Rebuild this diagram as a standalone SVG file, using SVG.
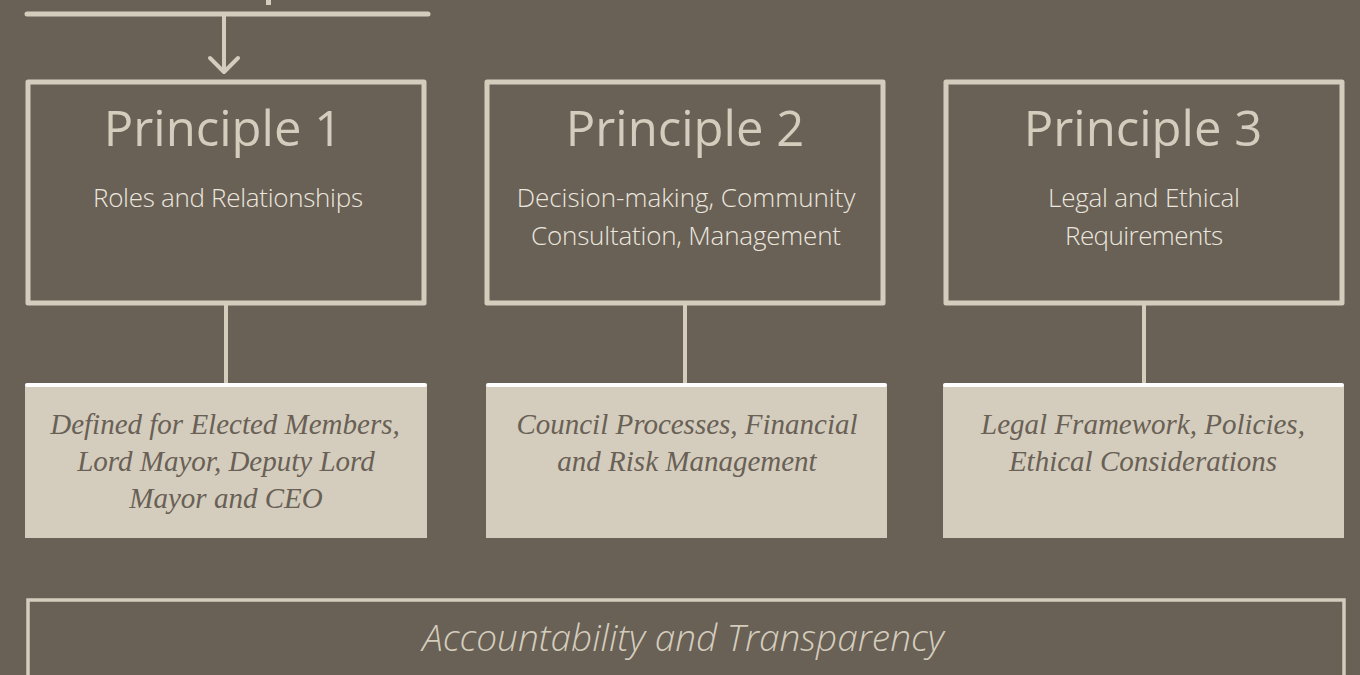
<svg xmlns="http://www.w3.org/2000/svg" width="1360" height="675" viewBox="0 0 1360 675">
<style>
.frame{fill:none;stroke:#d4cdbd;stroke-width:5;stroke-linejoin:round}
.card{fill:#d4cdbd}
.cardtop{stroke:#ffffff;stroke-width:4;stroke-linecap:round}
.con{stroke:#d4cdbd;stroke-width:4;fill:none}
.h{font-family:"Open Sans","Liberation Sans",sans-serif;font-weight:500;font-size:49px;fill:#d4cdbd;text-anchor:middle}
.s{font-family:"Open Sans","Liberation Sans",sans-serif;font-weight:300;font-size:26px;fill:#ebe7de;text-anchor:middle}
.d{font-family:"Liberation Serif","DejaVu Serif",serif;font-style:italic;font-size:29px;fill:#696056;text-anchor:middle}
.f{font-family:"Open Sans","Liberation Sans",sans-serif;font-style:italic;font-weight:300;font-size:37px;fill:#d4cdbd;text-anchor:middle}
</style>
<rect width="1360" height="675" fill="#696056"/>
<rect x="266" y="0" width="5" height="5" fill="#d4cdbd"/>
<g id="connectors">
<line x1="27" y1="14" x2="428" y2="14" class="con" style="stroke-linecap:round;stroke-width:5"/>
<line x1="224" y1="14" x2="224" y2="72" class="con"/>
<polyline points="210,58 224,72 238,58" class="con" style="stroke-linecap:round;stroke-linejoin:round"/>
<line x1="226" y1="305" x2="226" y2="384" class="con"/>
<line x1="685" y1="305" x2="685" y2="384" class="con"/>
<line x1="1144" y1="305" x2="1144" y2="384" class="con"/>
</g>
<g id="principle1">
<rect x="28" y="82" width="396" height="221" class="frame"/>
<text x="223" y="146" class="h">Principle 1</text>
<text x="228" y="207" class="s" textLength="270">Roles and Relationships</text>
</g>
<g id="principle2">
<rect x="487" y="82" width="396" height="221" class="frame"/>
<text x="685" y="146" class="h">Principle 2</text>
<text x="686" y="207" class="s">Decision-making, Community</text>
<text x="686" y="245" class="s" textLength="310">Consultation, Management</text>
</g>
<g id="principle3">
<rect x="946" y="82" width="396" height="221" class="frame"/>
<text x="1143" y="146" class="h">Principle 3</text>
<text x="1144" y="207" class="s" textLength="192">Legal and Ethical</text>
<text x="1144" y="245" class="s" textLength="158">Requirements</text>
</g>
<g id="detail1">
<rect x="25" y="385" width="402" height="153" class="card"/>
<line x1="27" y1="385" x2="425" y2="385" class="cardtop"/>
<text x="225" y="434" class="d">Defined for Elected Members,</text>
<text x="226" y="471" class="d">Lord Mayor, Deputy Lord</text>
<text x="226" y="508" class="d">Mayor and CEO</text>
</g>
<g id="detail2">
<rect x="486" y="385" width="401" height="153" class="card"/>
<line x1="488" y1="385" x2="885" y2="385" class="cardtop"/>
<text x="687" y="434" class="d">Council Processes, Financial</text>
<text x="687" y="471" class="d">and Risk Management</text>
</g>
<g id="detail3">
<rect x="943" y="385" width="401" height="153" class="card"/>
<line x1="945" y1="385" x2="1342" y2="385" class="cardtop"/>
<text x="1143" y="434" class="d">Legal Framework, Policies,</text>
<text x="1143" y="471" class="d">Ethical Considerations</text>
</g>
<g id="footer">
<rect x="28" y="600" width="1316" height="100" fill="none" stroke="#d4cdbd" stroke-width="3.5"/>
<text x="683" y="651" class="f">Accountability and Transparency</text>
</g>
</svg>
